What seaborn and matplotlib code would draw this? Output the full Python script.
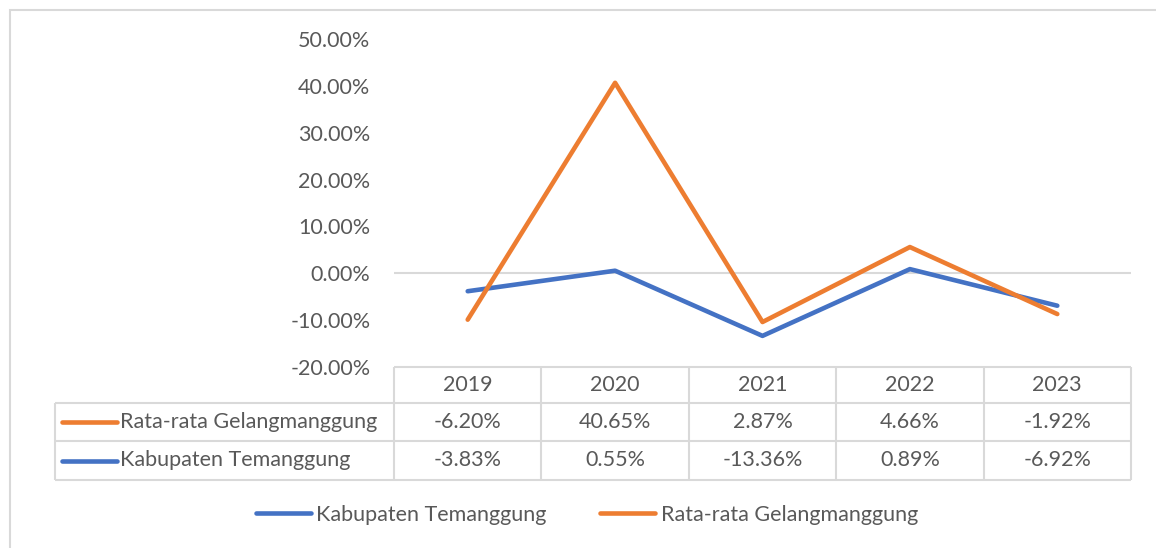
import pandas as pd
import matplotlib.pyplot as plt
import seaborn as sns
from matplotlib.patches import Rectangle
from matplotlib.ticker import FuncFormatter

# data
tahun = ['2019', '2020', '2021', '2022', '2023']
kab_temanggung = [-3.83, 0.55, -13.36, 0.89, -6.92]
# the plotted orange line
rata_gelang = [-9.9, 40.65, -10.4, 5.6, -8.7]
# values printed in the data table
label_kab = ['-3.83%', '0.55%', '-13.36%', '0.89%', '-6.92%']
label_rata = ['-6.20%', '40.65%', '2.87%', '4.66%', '-1.92%']

nama_kab = 'Kabupaten Temanggung'
nama_rata = 'Rata-rata Gelangmanggung'
biru = '#4472C4'
oranye = '#ED7D31'
abu = '#D9D9D9'
teks = '#595959'

df = pd.DataFrame({
    'Tahun': tahun * 2,
    'Nilai': kab_temanggung + rata_gelang,
    'Seri': [nama_kab] * 5 + [nama_rata] * 5,
})

sns.set_style('white')
plt.rcParams['font.family'] = ['Lato', 'DejaVu Sans']
fs = 15.5

W, H = 1156, 548
fig = plt.figure(figsize=(W / 100, H / 100), dpi=100)
ax = fig.add_axes([394 / W, 1 - 367 / H, (1131 - 394) / W, (367 - 39) / H])

sns.lineplot(data=df, x='Tahun', y='Nilai', hue='Seri', hue_order=[nama_kab, nama_rata],
             palette=[biru, oranye], linewidth=3.3, sort=False, ax=ax, legend=False,
             solid_capstyle='round', solid_joinstyle='round')

ax.set_xlim(-0.5, 4.5)
ax.set_ylim(-20, 50)
ax.set_yticks(range(-20, 51, 10))
ax.yaxis.set_major_formatter(FuncFormatter(lambda v, p: f'{v:.2f}%'))
ax.tick_params(axis='y', length=0, pad=17, labelsize=fs, labelcolor=teks)
ax.set_xticks([])
ax.set_xlabel('')
ax.set_ylabel('')
for s in ax.spines.values():
    s.set_visible(False)
ax.axhline(0, color=abu, lw=1.5, zorder=0)

# data table under the plot
tr = ax.get_xaxis_transform()
baris = [0, -36 / 328, -74 / 328, -113 / 328]
kiri = -0.5 - (394 - 55) / 147.4
kw = dict(transform=tr, clip_on=False, color=abu, lw=1.5)
ax.hlines(baris[0], -0.5, 4.5, **kw)
ax.hlines(baris[1:], kiri, 4.5, **kw)
for xv in [-0.5, 0.5, 1.5, 2.5, 3.5, 4.5]:
    ax.vlines(xv, baris[3], baris[0], **kw)
ax.vlines(kiri, baris[3], baris[1], **kw)

ymid = [(baris[i] + baris[i + 1]) / 2 for i in range(3)]
for i, t in enumerate(tahun):
    ax.text(i, ymid[0], t, transform=tr, ha='center', va='center', fontsize=fs, color=teks)
    ax.text(i, ymid[1], label_rata[i], transform=tr, ha='center', va='center', fontsize=fs, color=teks)
    ax.text(i, ymid[2], label_kab[i], transform=tr, ha='center', va='center', fontsize=fs, color=teks)

for yb, nama, warna in [(ymid[1], nama_rata, oranye), (ymid[2], nama_kab, biru)]:
    ax.plot([kiri + 0.05, kiri + 0.42], [yb, yb], transform=tr, clip_on=False,
            color=warna, lw=3.3, solid_capstyle='round')
    ax.text(kiri + 0.44, yb, nama, transform=tr, ha='left', va='center', fontsize=fs, color=teks)

# legend
handles = [plt.Line2D([], [], color=biru, lw=3.3, solid_capstyle='round'),
           plt.Line2D([], [], color=oranye, lw=3.3, solid_capstyle='round')]
leg = fig.legend(handles, [nama_kab, nama_rata], loc='center', bbox_to_anchor=(587 / W, 1 - 515 / H),
                 ncol=2, frameon=False, fontsize=fs, handlelength=39.6 / fs,
                 handletextpad=0.25, columnspacing=2.5)
for t in leg.get_texts():
    t.set_color(teks)

# chart border
fig.patches.append(Rectangle((10 / W, -0.1), 2, 1 - 10 / H + 0.1, transform=fig.transFigure,
                             fill=False, edgecolor=abu, lw=1.5))

plt.savefig('out.png', dpi=100)
